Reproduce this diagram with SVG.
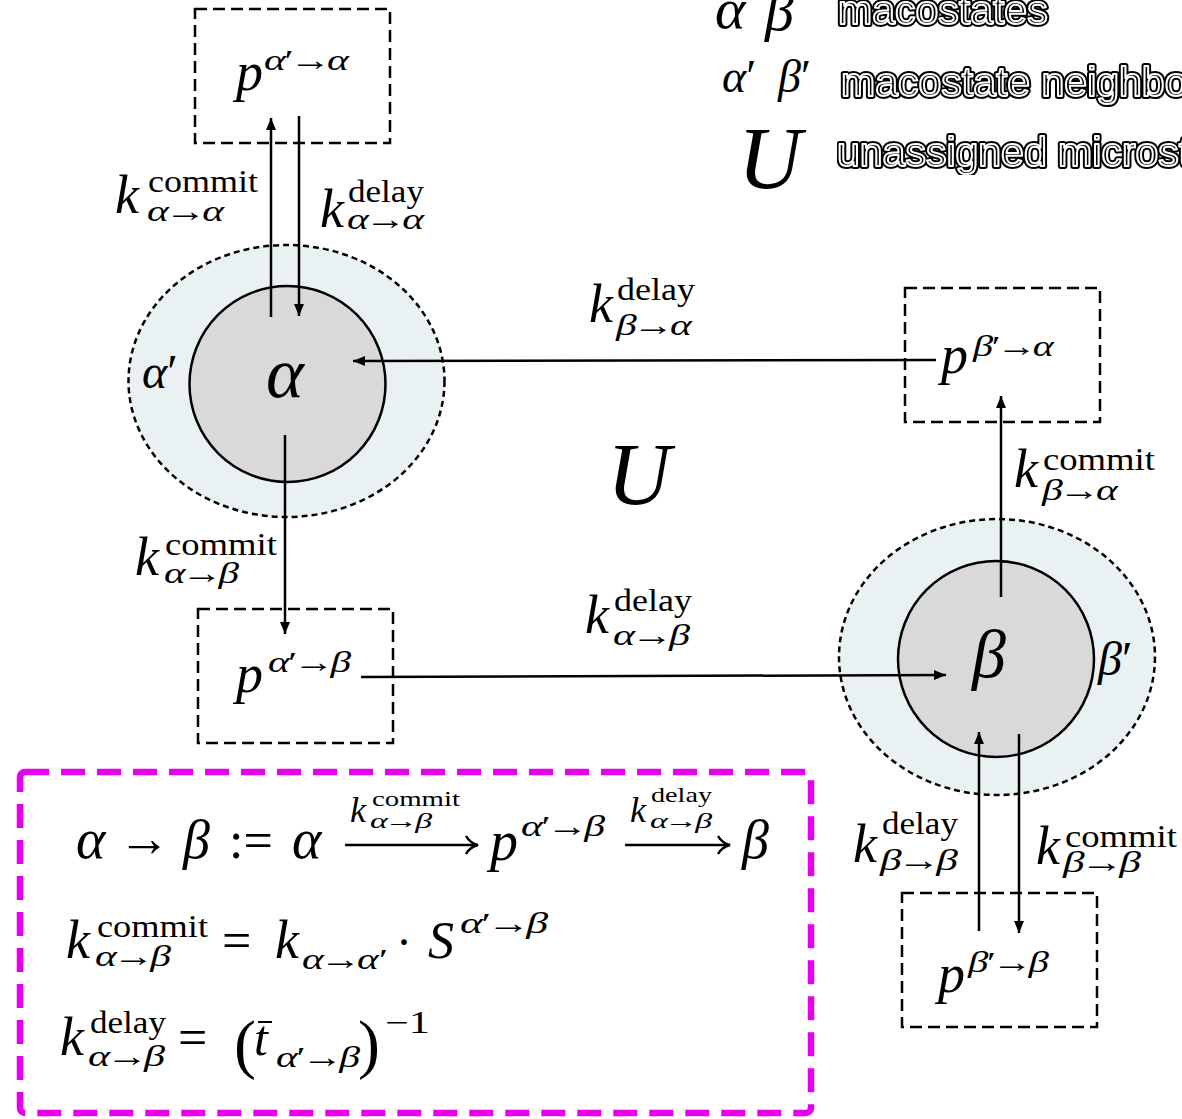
<svg xmlns="http://www.w3.org/2000/svg" width="1182" height="1119" viewBox="0 0 1182 1119">
<style>
.m{font-family:"Liberation Serif","DejaVu Serif",serif;font-style:italic;fill:#000}
.r{font-style:normal}
.kk{font-size:54px}
.sp{font-size:31px}
.sb{font-size:30px}
.box{fill:none;stroke:#000;stroke-width:2.5;stroke-dasharray:12 6}
.outer{fill:#eaf1f3;stroke:#000;stroke-width:2.5;stroke-dasharray:6 4}
.inner{fill:#d9d9d9;stroke:#000;stroke-width:2.5}
.con{fill:none;stroke:#000;stroke-width:2.5}
.lg1{font-family:"Liberation Sans",Arial,sans-serif;font-size:41px;fill:#000;stroke:#000;stroke-width:6;stroke-linejoin:round}
.lg2{font-family:"Liberation Sans",Arial,sans-serif;font-size:41px;fill:#000;stroke:#fff;stroke-width:2;stroke-linejoin:round}
</style>
<defs>
<marker id="ah" viewBox="0 0 12 10" refX="12" refY="5" markerWidth="12" markerHeight="10" markerUnits="userSpaceOnUse" orient="auto">
<path d="M0,0 L12,5 L0,10 z" fill="#000"/>
</marker>
<filter id="gray" x="0" y="0" width="1" height="1"><feOffset dx="0" dy="0"/></filter>
</defs>

<g id="legend">
<text class="m" x="715" y="28" font-size="58">α</text>
<text class="m" x="765" y="30" font-size="58">β</text>
<text class="m" x="722" y="92" font-size="46">α<tspan class="r">′</tspan></text>
<text class="m" x="778" y="92" font-size="46">β<tspan class="r">′</tspan></text>
<text class="m" x="738" y="188" font-size="88">U</text>
<g filter="url(#gray)">
<text class="lg1" x="838" y="24">macostates</text>
<text class="lg2" x="838" y="24">macostates</text>
<text class="lg1" x="841" y="96">macostate neighborhood</text>
<text class="lg2" x="841" y="96">macostate neighborhood</text>
<text class="lg1" x="837" y="166">unassigned microstates</text>
<text class="lg2" x="837" y="166">unassigned microstates</text>
</g>
</g>

<g id="node-alpha">
<ellipse class="outer" cx="286.5" cy="381" rx="158" ry="136"/>
<circle class="inner" cx="287.5" cy="384" r="98"/>
<text class="m" x="266" y="397" font-size="72">α</text>
<text class="m" x="142" y="388" font-size="48">α<tspan class="r">′</tspan></text>
</g>

<g id="node-beta">
<ellipse class="outer" cx="997" cy="657" rx="158" ry="138" fill="#ebf2f4"/>
<circle class="inner" cx="996" cy="659" r="98" fill="#dcdcdc"/>
<text class="m" x="972" y="677" font-size="68">β</text>
<text class="m" x="1098" y="675" font-size="48">β<tspan class="r">′</tspan></text>
</g>

<g id="node-p-aa">
<rect class="box" x="195" y="9" width="195" height="134"/>
<text class="m" x="236" y="90" font-size="54">p</text>
<text class="m sb" x="264" y="70" textLength="85" lengthAdjust="spacingAndGlyphs">α<tspan class="r" dx="-1">′</tspan><tspan class="r" dx="-3">→</tspan><tspan dx="-3">α</tspan></text>
</g>

<g id="node-p-ba">
<rect class="box" x="905" y="288" width="195" height="134"/>
<text class="m" x="941" y="373" font-size="54">p</text>
<text class="m sb" x="973" y="356" textLength="81" lengthAdjust="spacingAndGlyphs">β<tspan class="r" dx="-1">′</tspan><tspan class="r" dx="-3">→</tspan><tspan dx="-3">α</tspan></text>
</g>

<g id="node-p-ab">
<rect class="box" x="198" y="609" width="195" height="134"/>
<text class="m" x="236" y="692" font-size="54">p</text>
<text class="m sb" x="268" y="672" textLength="83" lengthAdjust="spacingAndGlyphs">α<tspan class="r" dx="-1">′</tspan><tspan class="r" dx="-3">→</tspan><tspan dx="-3">β</tspan></text>
</g>

<g id="node-p-bb">
<rect class="box" x="902" y="893" width="195" height="134"/>
<text class="m" x="938" y="992" font-size="54">p</text>
<text class="m sb" x="968" y="972" textLength="81" lengthAdjust="spacingAndGlyphs">β<tspan class="r" dx="-1">′</tspan><tspan class="r" dx="-3">→</tspan><tspan dx="-3">β</tspan></text>
</g>

<g id="node-U">
<text class="m" x="607" y="504" font-size="88">U</text>
</g>

<g id="connectors">
<line class="con" x1="271" y1="317" x2="271" y2="118" marker-end="url(#ah)"/>
<line class="con" x1="299" y1="116" x2="299" y2="316" marker-end="url(#ah)"/>
<line class="con" x1="936" y1="360" x2="353" y2="361" marker-end="url(#ah)"/>
<line class="con" x1="1001" y1="597" x2="1001" y2="396" marker-end="url(#ah)"/>
<line class="con" x1="285" y1="435" x2="285" y2="634" marker-end="url(#ah)"/>
<line class="con" x1="361" y1="677" x2="946" y2="675" marker-end="url(#ah)"/>
<line class="con" x1="979" y1="931" x2="979" y2="732" marker-end="url(#ah)"/>
<line class="con" x1="1019" y1="734" x2="1019" y2="933" marker-end="url(#ah)"/>
</g>

<g id="labels">
<g id="lab-commit-aa">
<text class="m kk" x="115" y="213">k</text>
<text class="m sp r" x="148" y="192" textLength="110" lengthAdjust="spacingAndGlyphs">commit</text>
<text class="m sb" x="147" y="221" textLength="77" lengthAdjust="spacingAndGlyphs">α<tspan class="r" dx="-3">→</tspan><tspan dx="-3">α</tspan></text>
</g>
<g id="lab-delay-aa">
<text class="m kk" x="320" y="227">k</text>
<text class="m sp r" x="348" y="202" textLength="76" lengthAdjust="spacingAndGlyphs">delay</text>
<text class="m sb" x="347" y="229" textLength="77" lengthAdjust="spacingAndGlyphs">α<tspan class="r" dx="-3">→</tspan><tspan dx="-3">α</tspan></text>
</g>
<g id="lab-delay-ba">
<text class="m kk" x="589" y="322">k</text>
<text class="m sp r" x="617" y="300" textLength="78" lengthAdjust="spacingAndGlyphs">delay</text>
<text class="m sb" x="616" y="335" textLength="76" lengthAdjust="spacingAndGlyphs">β<tspan class="r" dx="-3">→</tspan><tspan dx="-3">α</tspan></text>
</g>
<g id="lab-commit-ba">
<text class="m kk" x="1014" y="487">k</text>
<text class="m sp r" x="1043" y="470" textLength="112" lengthAdjust="spacingAndGlyphs">commit</text>
<text class="m sb" x="1042" y="500" textLength="76" lengthAdjust="spacingAndGlyphs">β<tspan class="r" dx="-3">→</tspan><tspan dx="-3">α</tspan></text>
</g>
<g id="lab-commit-ab">
<text class="m kk" x="135" y="575">k</text>
<text class="m sp r" x="165" y="555" textLength="112" lengthAdjust="spacingAndGlyphs">commit</text>
<text class="m sb" x="164" y="583" textLength="75" lengthAdjust="spacingAndGlyphs">α<tspan class="r" dx="-3">→</tspan><tspan dx="-3">β</tspan></text>
</g>
<g id="lab-delay-ab">
<text class="m kk" x="585" y="633">k</text>
<text class="m sp r" x="614" y="611" textLength="78" lengthAdjust="spacingAndGlyphs">delay</text>
<text class="m sb" x="613" y="645" textLength="77" lengthAdjust="spacingAndGlyphs">α<tspan class="r" dx="-3">→</tspan><tspan dx="-3">β</tspan></text>
</g>
<g id="lab-delay-bb">
<text class="m kk" x="853" y="862">k</text>
<text class="m sp r" x="882" y="834" textLength="76" lengthAdjust="spacingAndGlyphs">delay</text>
<text class="m sb" x="880" y="870" textLength="78" lengthAdjust="spacingAndGlyphs">β<tspan class="r" dx="-3">→</tspan><tspan dx="-3">β</tspan></text>
</g>
<g id="lab-commit-bb">
<text class="m kk" x="1036" y="864">k</text>
<text class="m sp r" x="1065" y="847" textLength="112" lengthAdjust="spacingAndGlyphs">commit</text>
<text class="m sb" x="1063" y="872" textLength="78" lengthAdjust="spacingAndGlyphs">β<tspan class="r" dx="-3">→</tspan><tspan dx="-3">β</tspan></text>
</g>
</g>

<g id="definition-box">
<rect x="20" y="772" width="791" height="341" rx="5" fill="none" stroke="#e400ec" stroke-width="6.5" stroke-dasharray="24 12"/>
<g id="formula-1">
<text class="m" x="76" y="858" font-size="56">α</text>
<text class="m r" x="118" y="856" font-size="52">→</text>
<text class="m" x="183" y="858" font-size="54">β</text>
<text class="m r" x="229" y="858" font-size="52">:=</text>
<text class="m" x="292" y="858" font-size="56">α</text>
<path class="con" d="M345,845 H476 M466,836 Q470,843 478,845 Q470,847 466,854" stroke-width="2.2"/>
<text class="m" x="350" y="822" font-size="36">k</text>
<text class="m r" x="372" y="806" font-size="22" textLength="88" lengthAdjust="spacingAndGlyphs">commit</text>
<text class="m" x="370" y="828" font-size="21" textLength="62" lengthAdjust="spacingAndGlyphs">α<tspan class="r" dx="-2">→</tspan><tspan dx="-2">β</tspan></text>
<text class="m" x="490" y="860" font-size="56">p</text>
<text class="m" x="521" y="836" font-size="30" textLength="84" lengthAdjust="spacingAndGlyphs">α<tspan class="r" dx="-1">′</tspan><tspan class="r" dx="-3">→</tspan><tspan dx="-3">β</tspan></text>
<path class="con" d="M625,845 H728 M718,836 Q722,843 730,845 Q722,847 718,854" stroke-width="2.2"/>
<text class="m" x="630" y="822" font-size="36">k</text>
<text class="m r" x="651" y="802" font-size="22" textLength="61" lengthAdjust="spacingAndGlyphs">delay</text>
<text class="m" x="650" y="828" font-size="21" textLength="62" lengthAdjust="spacingAndGlyphs">α<tspan class="r" dx="-2">→</tspan><tspan dx="-2">β</tspan></text>
<text class="m" x="742" y="858" font-size="54">β</text>
</g>
<g id="formula-2">
<text class="m kk" x="66" y="958">k</text>
<text class="m sp r" x="97" y="937" textLength="111" lengthAdjust="spacingAndGlyphs">commit</text>
<text class="m sb" x="95" y="966" textLength="76" lengthAdjust="spacingAndGlyphs">α<tspan class="r" dx="-3">→</tspan><tspan dx="-3">β</tspan></text>
<text class="m r" x="222" y="958" font-size="52">=</text>
<text class="m kk" x="275" y="958">k</text>
<text class="m sb" x="302" y="969" textLength="86" lengthAdjust="spacingAndGlyphs">α<tspan class="r" dx="-3">→</tspan><tspan dx="-3">α</tspan><tspan class="r">′</tspan></text>
<text class="m r" x="396" y="958" font-size="48">·</text>
<text class="m" x="428" y="958" font-size="52">S</text>
<text class="m sb" x="460" y="933" textLength="88" lengthAdjust="spacingAndGlyphs">α<tspan class="r" dx="-1">′</tspan><tspan class="r" dx="-3">→</tspan><tspan dx="-3">β</tspan></text>
</g>
<g id="formula-3">
<text class="m kk" x="60" y="1055">k</text>
<text class="m sp r" x="90" y="1033" textLength="76" lengthAdjust="spacingAndGlyphs">delay</text>
<text class="m sb" x="88" y="1066" textLength="77" lengthAdjust="spacingAndGlyphs">α<tspan class="r" dx="-3">→</tspan><tspan dx="-3">β</tspan></text>
<text class="m r" x="178" y="1055" font-size="52">=</text>
<text class="m r" x="234" y="1066" font-size="66">(</text>
<text class="m" x="254" y="1055" font-size="50">t</text>
<line x1="258" y1="1022" x2="272" y2="1022" stroke="#000" stroke-width="2"/>
<text class="m sb" x="276" y="1067" textLength="84" lengthAdjust="spacingAndGlyphs">α<tspan class="r" dx="-1">′</tspan><tspan class="r" dx="-3">→</tspan><tspan dx="-3">β</tspan></text>
<text class="m r" x="358" y="1066" font-size="66">)</text>
<text class="m sp r" x="385" y="1033" textLength="45" lengthAdjust="spacingAndGlyphs">−1</text>
</g>
</g>
</svg>
